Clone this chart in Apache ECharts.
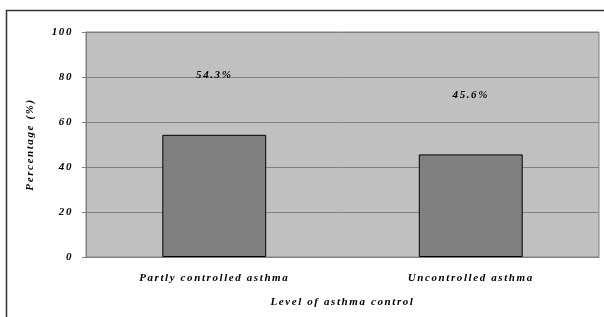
<!DOCTYPE html>
<html>
<head>
<meta charset="utf-8">
<script src="https://cdn.jsdelivr.net/npm/echarts@6/dist/echarts.min.js"></script>
<style>
  html, body { margin: 0; padding: 0; background: #fff; }
  #chart { width: 604px; height: 317px; }
</style>
</head>
<body>
<div id="chart"></div>
<script>
const categories = ['Partly controlled asthma', 'Uncontrolled asthma']
const percentages = [54.3, 45.6]
const yTicks = [0, 20, 40, 60, 80, 100]

const font = {
  fontFamily: 'Liberation Serif',
  fontStyle: 'italic',
  fontWeight: 'bold',
  fontSize: 11,
  color: '#000'
}

const chart = echarts.init(document.getElementById('chart'))
const option = {
  animation: false,
  backgroundColor: '#fff',
  graphic: [{
    type: 'rect',
    shape: { x: 6.5, y: 10.5, width: 700, height: 400 },
    style: { fill: 'none', stroke: '#333', lineWidth: 1.5 },
    silent: true
  }],
  grid: {
    left: 86,
    right: 5,
    top: 32,
    bottom: 60,
    show: true,
    backgroundColor: '#c0c0c0',
    borderColor: '#808080',
    borderWidth: 1
  },
  xAxis: {
    type: 'category',
    data: categories,
    name: 'Level of asthma control',
    nameLocation: 'middle',
    nameGap: 40,
    nameTextStyle: Object.assign({}, font),
    axisLine: { show: true, lineStyle: { color: '#808080' } },
    axisTick: { show: false },
    axisLabel: Object.assign({ margin: 16 }, font)
  },
  yAxis: {
    type: 'value',
    min: yTicks[0],
    max: yTicks[yTicks.length - 1],
    interval: 20,
    name: 'Percentage (%)',
    nameLocation: 'middle',
    nameRotate: 90,
    nameGap: 50,
    nameTextStyle: Object.assign({}, font),
    axisLine: { show: true, lineStyle: { color: '#808080' } },
    axisTick: { show: true, length: 4, lineStyle: { color: '#808080' } },
    axisLabel: Object.assign({ margin: 13 }, font),
    splitLine: { show: true, lineStyle: { color: '#808080', width: 1 } }
  },
  series: [{
    type: 'bar',
    data: percentages,
    barWidth: '40.5%',
    itemStyle: { color: '#808080', borderColor: '#000', borderWidth: 1 },
    label: Object.assign({
      show: true,
      position: 'top',
      distance: 54,
      formatter: p => p.value.toFixed(1) + '%'
    }, font)
  }]
}
chart.setOption(option)

// the original spreads its letters out; canvas keeps letterSpacing on the layer context
chart.getZr().painter.eachLayer(layer => { if (layer.ctx) layer.ctx.letterSpacing = '1.6px' })
chart.setOption(option, true)
</script>
</body>
</html>
